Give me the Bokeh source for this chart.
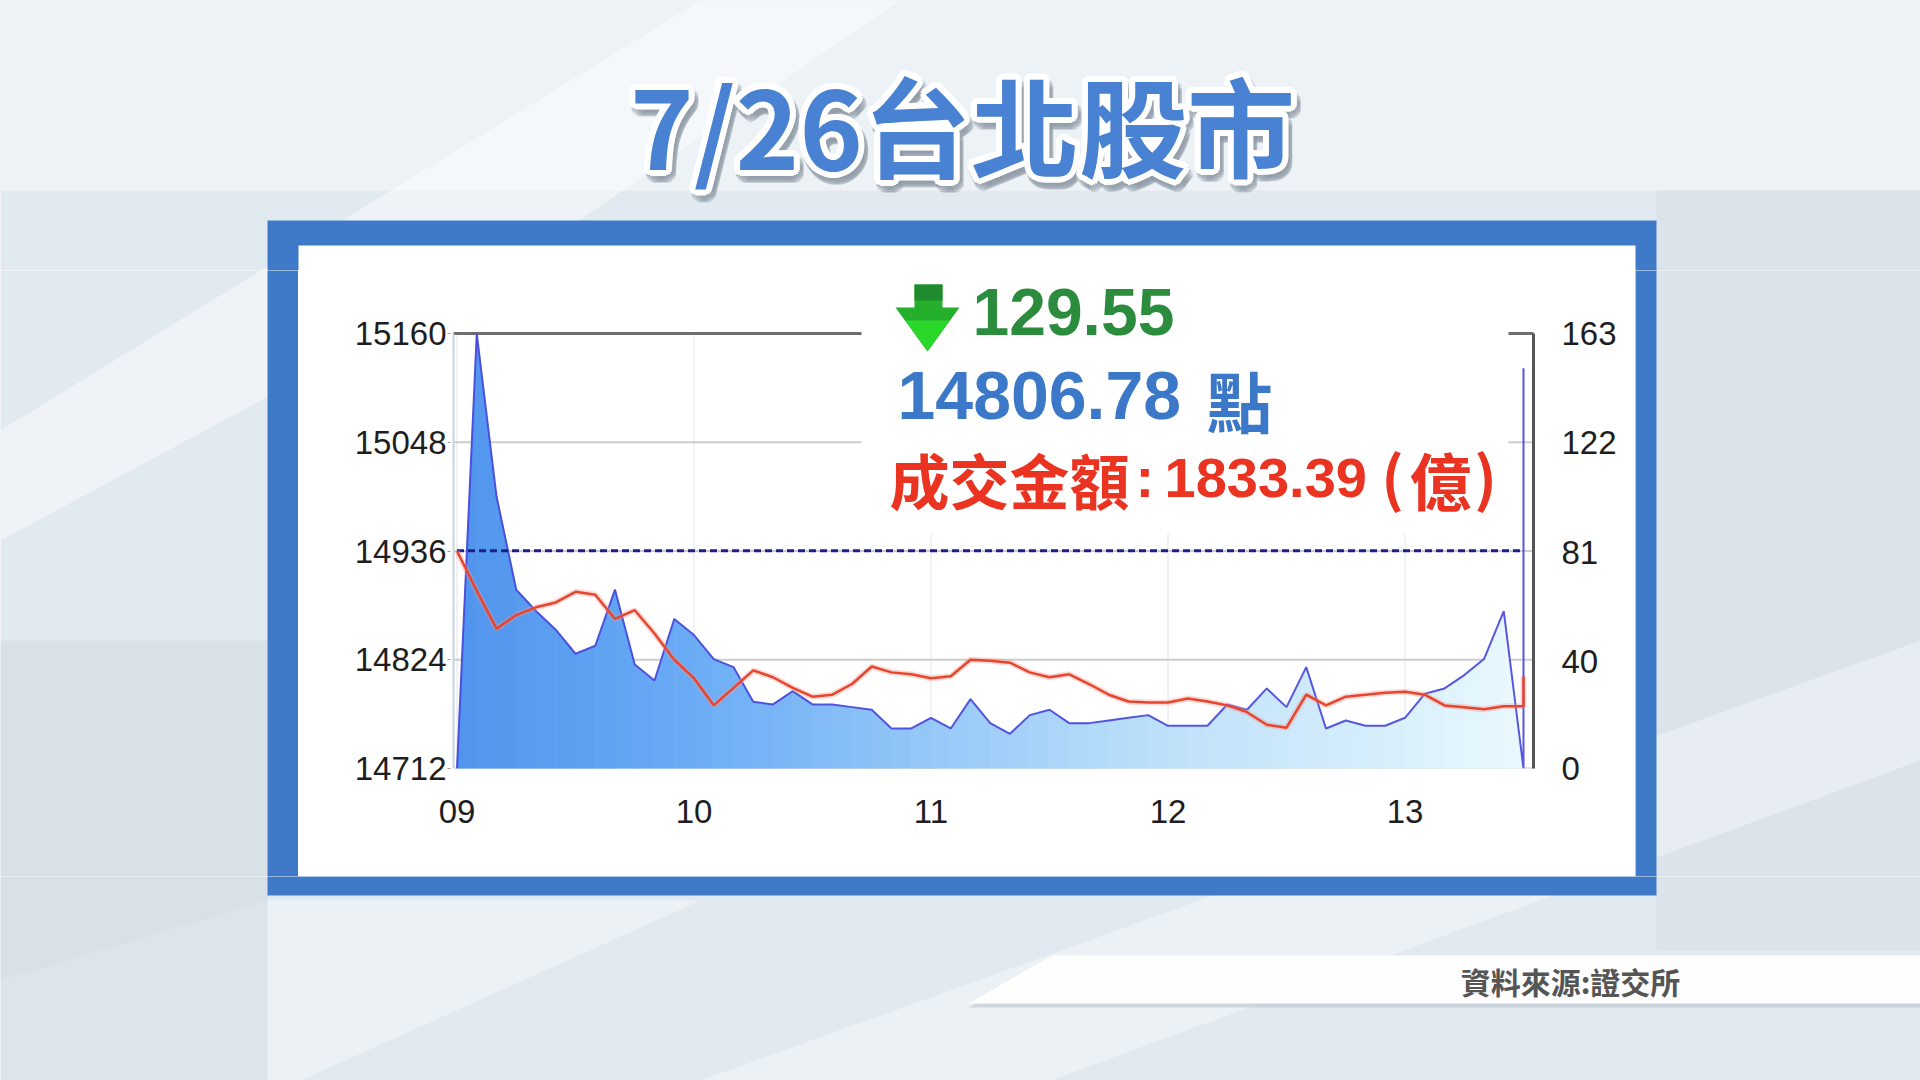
import math
from bokeh.plotting import figure
from bokeh.layouts import column, row
from bokeh.models import Range1d, LinearAxis, FixedTicker
from bokeh.core.properties import value
from bokeh.embed import file_html
from bokeh.resources import INLINE

# ---------------- data ----------------
# minutes after 09:00 (5-minute samples); last entry = closing auction at 13:30
minutes = [0, 5, 10, 15, 20, 25, 30, 35, 40, 45, 50, 55, 60,
           65, 70, 75, 80, 85, 90, 95, 100, 105, 110, 115, 120,
           125, 130, 135, 140, 145, 150, 155, 160, 165, 170, 175, 180,
           185, 190, 195, 200, 205, 210, 215, 220, 225, 230, 235, 240,
           245, 250, 255, 260, 265, 270, 270]
# traded value per interval (億)
volume = [0, 163, 102, 67, 59, 52, 43, 46, 67, 39, 33, 56, 50,
          41, 38, 25, 24, 29, 24, 24, 23, 22, 15, 15, 19,
          15, 26, 17, 13, 20, 22, 17, 17, 18, 19, 20, 16,
          16, 16, 24, 22, 30, 23, 38, 15, 18, 16, 16, 19,
          28, 30, 35, 41, 59, 0, 150]
# TAIEX index
index = [14936, 14895, 14856, 14870, 14878, 14883, 14894, 14891, 14866, 14875, 14851, 14824, 14805,
         14777, 14795, 14813, 14806, 14795, 14786, 14788, 14799, 14817, 14811, 14809, 14805,
         14807, 14824, 14823, 14821, 14811, 14806, 14809, 14799, 14788, 14781, 14780, 14780,
         14784, 14781, 14777, 14770, 14757, 14754, 14788, 14777, 14786, 14788, 14790, 14791,
         14788, 14777, 14775, 14773, 14776, 14776, 14806.78]

prev_close = 14936.33
change_txt = "129.55"
close_txt = "14806.78"
turnover_txt = "1833.39"
title_txt = "7/26台北股市"
source_txt = "資料來源:證交所"

idx_ticks = [14712, 14824, 14936, 15048, 15160]
vol_ticks = [0, 40, 81, 122, 163]
hour_ticks = [0, 60, 120, 180, 240]
hour_labels = ["09", "10", "11", "12", "13"]

# ---------------- layout geometry (reference-image pixels) ----------------
X0, X1, Y0, Y1 = 0, 1920, 0, 1080           # page area
PANEL = (298, 1635, 245, 876)               # white panel inside the blue frame
FRAME = (267, 1656, 220, 895)               # blue frame outer edge
FL, FR, FT, FB = 450, 1536, 270, 768        # bokeh frame of the chart figure
AL, AR, AT = 453, 1533, 333                 # drawn axis lines / top line
T0X, PX_PER_MIN = 456.5, 3.95               # 09:00 position and minute width
BG = "#e2eaf1"
CJK = "Noto Sans CJK TC"
LAT = "Liberation Sans"
RED = "#ea3320"
BLUE_TXT = "#3b78c8"
GREEN_TXT = "#2a8c3c"

bg_shapes = [
    ([0, 1920, 1920, 0], [0, 0, 190, 190], "#eef3f7", 0.9),
    ([0, 0, 520, 900, 700], [430, 540, 260, 0, 0], "#ffffff", 0.45),
    ([0, 0, 300, 700, 267], [980, 1080, 1080, 900, 900], "#ffffff", 0.35),
    ([1656, 1920, 1920, 1656], [190, 190, 950, 950], "#d3dce4", 0.45),
    ([0, 267, 267, 0], [640, 640, 1080, 1080], "#cdd7dd", 0.45),
    ([700, 1920, 1920, 1050], [1080, 640, 760, 1080], "#ffffff", 0.35),
    ([FRAME[0], FRAME[1], FRAME[1], FRAME[0]], [FRAME[2], FRAME[2], FRAME[3], FRAME[3]], "#3e7ac8", 1.0),
    ([PANEL[0], PANEL[1], PANEL[1], PANEL[0]], [PANEL[2], PANEL[2], PANEL[3], PANEL[3]], "#ffffff", 1.0),
]

arrow_shapes = [
    ([914, 942, 942, 959, 927, 895, 914], [284, 284, 307, 307, 351, 307, 307], "#24b02a"),
    ([914, 942, 942, 914], [284, 284, 300, 300], "#1f8a2e"),
    ([905, 949, 927], [320, 320, 351], "#2ad82a"),
]


def deco(x0, x1, y0, y1):
    f = figure(width=x1 - x0, height=y1 - y0, x_range=Range1d(x0, x1), y_range=Range1d(y1, y0),
               output_backend="svg", toolbar_location=None, min_border=0,
               x_axis_type=None, y_axis_type=None, frame_align=False)
    f.grid.visible = False
    f.outline_line_color = None
    f.background_fill_color = BG
    f.border_fill_color = BG
    for xs, ys, c, a in bg_shapes:
        f.patch(xs, ys, fill_color=c, fill_alpha=a, line_color=None)
    return f


def txt(f, x, y, s, font, size, color, align="left", **kw):
    f.text(x=[x], y=[y], text=[s], text_font=value(font), text_font_size=f"{size}px",
           text_font_style="bold", text_color=color, text_align=align,
           text_baseline="middle", **kw)


# ---------------- top piece: title ----------------
top = deco(X0, X1, Y0, FT)
TX, TY = 962, 122
sx = [TX + 3 + 7 * math.cos(2 * math.pi * k / 16) for k in range(16)]
sy = [TY + 6 + 7 * math.sin(2 * math.pi * k / 16) for k in range(16)]
top.text(x=sx, y=sy, text=[title_txt] * 16, text_font=value(CJK), text_font_size="108px",
         text_font_style="bold", text_color="#8e9aa6", text_alpha=0.35,
         text_align="center", text_baseline="middle")
wx = [TX + 6 * math.cos(2 * math.pi * k / 16) for k in range(16)]
wy = [TY + 6 * math.sin(2 * math.pi * k / 16) for k in range(16)]
top.text(x=wx, y=wy, text=[title_txt] * 16, text_font=value(CJK), text_font_size="108px",
         text_font_style="bold", text_color="#ffffff", text_align="center", text_baseline="middle")
txt(top, TX, TY, title_txt, CJK, 108, "#4a82d3", align="center")

# ---------------- side pieces ----------------
left = deco(X0, PANEL[0], FT, PANEL[3])
right = deco(PANEL[1], X1, FT, PANEL[3])

# ---------------- bottom piece: source banner ----------------
bottom = deco(X0, X1, PANEL[3], Y1)
bottom.patch([1052, 1920, 1920, 968], [957, 957, 1007, 1007], fill_color="#9aa6b0", fill_alpha=0.35, line_color=None)
bottom.patch([1052, 1920, 1920, 968], [955, 955, 1003, 1003], fill_color="#ffffff", fill_alpha=0.97, line_color=None)
txt(bottom, 1570, 980, source_txt, CJK, 30, "#555555", align="center")

# ---------------- chart ----------------
# data ranges chosen so that 15160 sits at y=333 and 14712 at y=768 (reference px)
idx_per_px = (idx_ticks[-1] - idx_ticks[0]) / (FB - AT)
vol_per_px = (vol_ticks[-1] - vol_ticks[0]) / (FB - AT)
idx_top = idx_ticks[-1] + (AT - FT) * idx_per_px
vol_top = vol_ticks[-1] + (AT - FT) * vol_per_px
t_left = (FL - T0X) / PX_PER_MIN
t_right = (FR - T0X) / PX_PER_MIN

p = figure(width=PANEL[1] - PANEL[0], height=PANEL[3] - FT, output_backend="svg", toolbar_location=None,
           x_range=Range1d(t_left, t_right), y_range=Range1d(idx_ticks[0], idx_top),
           min_border=0, min_border_left=FL - PANEL[0], min_border_right=PANEL[1] - FR,
           min_border_top=0, min_border_bottom=PANEL[3] - FB, frame_align=False)
p.extra_x_ranges = {"px": Range1d(FL, FR)}
p.extra_y_ranges = {"py": Range1d(FB, FT), "vol": Range1d(vol_ticks[0], vol_top)}
p.border_fill_color = "white"
p.background_fill_color = "white"
p.outline_line_color = None
p.grid.visible = False

AX_FONT = LAT
AX_SIZE = "33px"
for ax in (p.yaxis[0], p.xaxis[0]):
    ax.major_label_text_font = AX_FONT
    ax.major_label_text_font_size = AX_SIZE
    ax.major_label_text_color = "#1e1e1e"
    ax.minor_tick_line_color = None
    ax.axis_line_color = None

p.yaxis.ticker = FixedTicker(ticks=idx_ticks)
p.yaxis.major_tick_out = 3
p.yaxis.major_tick_in = 0
p.yaxis.major_tick_line_color = "#999999"
p.yaxis.major_label_standoff = 1

p.xaxis.ticker = FixedTicker(ticks=hour_ticks)
p.xaxis.major_label_overrides = {t: s for t, s in zip(hour_ticks, hour_labels)}
p.xaxis.major_tick_line_color = None
p.xaxis.major_label_standoff = 25

vax = LinearAxis(y_range_name="vol", ticker=FixedTicker(ticks=vol_ticks))
vax.major_label_text_font = AX_FONT
vax.major_label_text_font_size = AX_SIZE
vax.major_label_text_color = "#1e1e1e"
vax.axis_line_color = None
vax.major_tick_line_color = None
vax.minor_tick_line_color = None
vax.major_label_standoff = 19
p.add_layout(vax, "right")

# grid lines
p.segment(x0=hour_ticks, x1=hour_ticks, y0=[idx_ticks[0]] * len(hour_ticks),
          y1=[idx_ticks[-1]] * len(hour_ticks), line_color="#e4e4e4", line_width=1)
p.segment(x0=[AL] * len(idx_ticks), x1=[AR] * len(idx_ticks), y0=idx_ticks, y1=idx_ticks,
          line_color="#cccccc", line_width=2, x_range_name="px")
p.segment(x0=[AL], x1=[AR], y0=[idx_ticks[-1]], y1=[idx_ticks[-1]],
          line_color="#6e6e6e", line_width=3, x_range_name="px")

# volume area with horizontal gradient
stops = [(0, (80, 148, 238)), (60, (106, 172, 245)), (120, (150, 200, 248)),
         (180, (190, 225, 250)), (240, (218, 240, 252)), (270, (234, 248, 254))]


def grad(t):
    for (t0, c0), (t1, c1) in zip(stops[:-1], stops[1:]):
        if t <= t1:
            f = (t - t0) / (t1 - t0)
            return "#%02x%02x%02x" % tuple(int(round(a + (b - a) * f)) for a, b in zip(c0, c1))
    return "#%02x%02x%02x" % stops[-1][1]


xs, ys, cols = [], [], []
for i in range(len(minutes) - 1):
    t0, t1 = minutes[i], minutes[i + 1]
    if t1 <= t0:
        continue
    xs.append([t0, t0, t1, t1])
    ys.append([0, volume[i], volume[i + 1], 0])
    cols.append(grad((t0 + t1) / 2))
p.patches(xs, ys, fill_color=cols, line_color=cols, line_width=0.8, y_range_name="vol")
p.line(minutes, volume, y_range_name="vol", line_color="#4646dc", line_width=2, line_alpha=0.9)

# previous close dashed line
p.segment(x0=[minutes[0]], x1=[minutes[-1]], y0=[prev_close], y1=[prev_close],
          line_color="#1c1f8a", line_width=3, line_dash="7 4")

# index line
p.line(minutes, index, line_color="#f2968c", line_width=6, line_alpha=0.35)
p.line(minutes, index, line_color="#e8452e", line_width=2.5)

# axis lines
PXR = dict(x_range_name="px", y_range_name="py")
p.segment(x0=[AL], x1=[AL], y0=[AT], y1=[FB], line_color="#c4d4e4", line_width=2, **PXR)
p.segment(x0=[AR], x1=[AR], y0=[AT], y1=[FB + 4], line_color="#555555", line_width=3, **PXR)

# white box behind info texts (hides grid lines)
p.quad(left=[861], right=[1508], top=[FT], bottom=[533], fill_color="white", line_color=None, **PXR)
for xs_, ys_, c in arrow_shapes:
    p.patch(xs_, ys_, fill_color=c, line_color=None, **PXR)
txt(p, 972, 311, change_txt, LAT, 66, GREEN_TXT, **PXR)
txt(p, 897, 395, close_txt, LAT, 68, BLUE_TXT, **PXR)
txt(p, 1239, 398, "點", CJK, 66, BLUE_TXT, align="center", **PXR)
txt(p, 889, 478, "成交金額", CJK, 60, RED, **PXR)
txt(p, 1135, 477, ":", LAT, 56, RED, **PXR)
txt(p, 1164, 477, turnover_txt, LAT, 56, RED, **PXR)
txt(p, 1392, 474, "(", CJK, 60, RED, align="center", **PXR)
txt(p, 1440, 478, "億", CJK, 62, RED, align="center", **PXR)
txt(p, 1485, 474, ")", CJK, 60, RED, align="center", **PXR)

layout = column(top, row(left, p, right), bottom)
open("out.html", "w", encoding="utf-8").write(file_html(layout, INLINE))
